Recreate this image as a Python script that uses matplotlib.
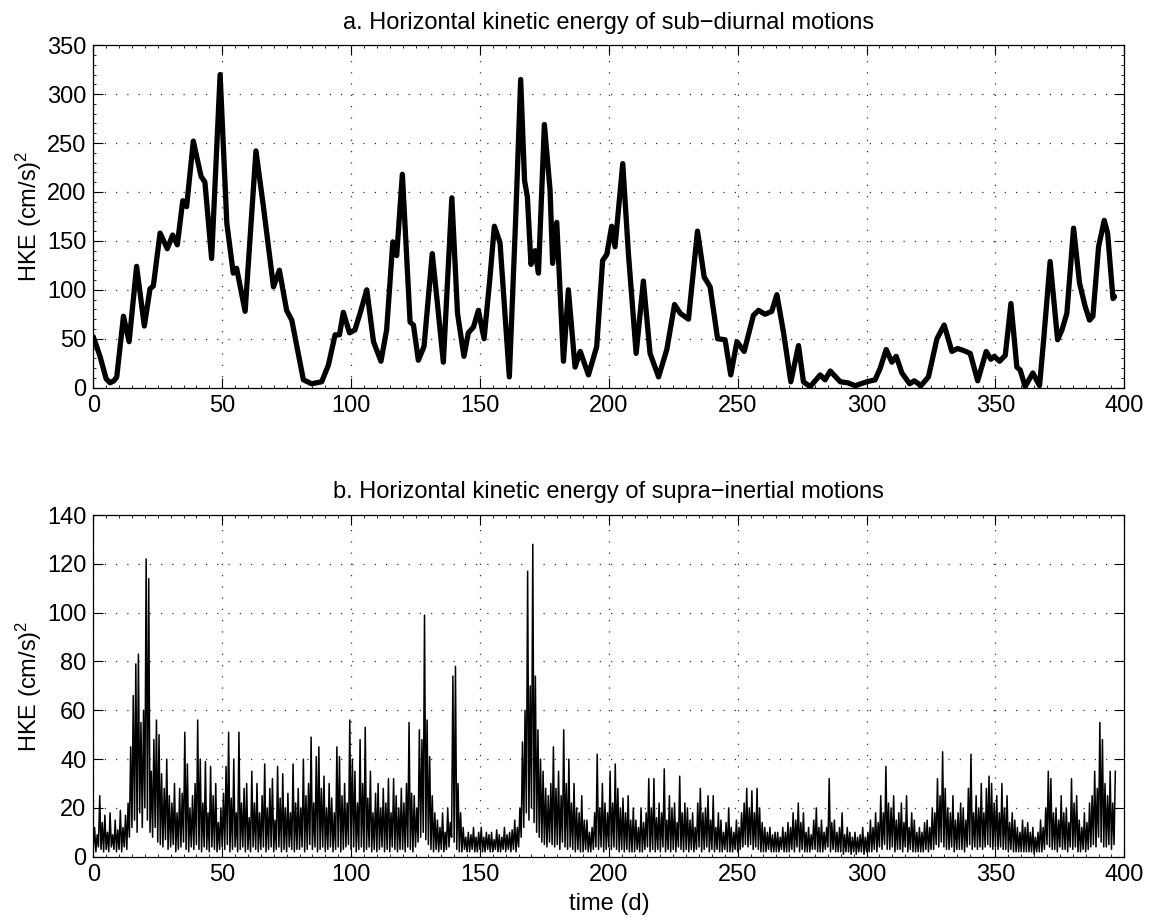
import matplotlib
matplotlib.use('Agg')
import matplotlib.pyplot as plt
from matplotlib.ticker import MultipleLocator
import numpy as np

plt.rcParams['font.family'] = ['Liberation Sans', 'DejaVu Sans']
plt.rcParams['mathtext.fontset'] = 'custom'
plt.rcParams['mathtext.rm'] = 'Liberation Sans'
plt.rcParams['mathtext.it'] = 'Liberation Sans:italic'

# sub-diurnal HKE, (day, value) pairs along the smoothed curve
sub_day = [0, 2.6, 5.0, 6.5, 8.0, 9.1, 11.7, 13.9, 16.8, 19.8, 22.0, 23.3, 25.9, 28.7, 30.8, 32.6,
           34.7, 36.2, 38.8, 41.8, 43.3, 45.9, 49.2, 51.8, 54.3, 55.6, 58.9, 63.1, 66.0,
           69.9, 72.2, 75.0, 77.0, 81.5, 84.7, 88.6, 91.2, 93.8, 95.5, 97.0, 99.4,
           101.5, 103.5, 106.1, 108.7, 111.6, 113.8, 116.2, 117.7, 119.9, 122.9, 124.2,
           126.1, 128.3, 131.5, 133.5, 135.8, 139.1, 141.3, 143.8, 145.5, 147.5, 149.4,
           151.6, 153.7, 155.6, 157.8, 161.4, 163.9, 165.8, 167.3, 168.4, 169.8, 171.4,
           172.7, 175.0, 177.2, 178.2, 179.8, 182.4, 184.3, 186.9, 188.9, 192.1, 195.3,
           197.6, 199.2, 201.1, 202.4, 205.4, 207.6, 210.6, 213.4, 216.0, 219.3, 222.5,
           225.5, 227.7, 230.9, 234.4, 237.0, 239.3, 242.2, 245.1, 247.3, 249.7, 252.5,
           256.1, 258.1, 260.6, 263.2, 265.2, 267.8, 270.6, 273.6, 275.5, 278.1, 282.0,
           283.9, 285.9, 289.8, 292.6, 295.6, 300.1, 303.3, 305.3, 307.6, 309.8, 311.5,
           313.7, 316.7, 318.5, 321.1, 324.0, 327.3, 330.1, 333.1, 335.3, 337.6, 340.2,
           343.1, 346.4, 348.2, 349.5, 351.6, 353.8, 356.0, 358.3, 359.6, 361.5, 364.5,
           367.1, 368.7, 371.2, 374.1, 375.8, 377.7, 380.3, 382.6, 384.8, 386.5, 387.8,
           390.0, 392.2, 393.5, 395.6, 396.2]
sub_hke = [52, 32, 9, 5, 7, 11, 73, 47, 124, 63, 101, 104, 158, 142, 156, 146,
           191, 185, 252, 216, 210, 132, 320, 168, 117, 122, 78, 242, 185,
           103, 120, 79, 69, 8, 4, 6, 23, 54, 54, 77, 56,
           59, 76, 100, 47, 27, 59, 149, 135, 218, 67, 64,
           28, 42, 137, 86, 26, 194, 76, 32, 56, 62, 79,
           50, 107, 165, 148, 11, 175, 315, 212, 195, 126, 140,
           117, 269, 202, 127, 169, 27, 100, 21, 37, 13, 42,
           130, 136, 165, 144, 229, 137, 35, 109, 35, 11, 39,
           85, 76, 70, 160, 113, 103, 50, 49, 13, 47, 37,
           74, 79, 75, 78, 95, 56, 6, 43, 6, 1, 13,
           8, 17, 6, 5, 2, 6, 8, 20, 39, 26, 32,
           15, 4, 7, 2, 11, 50, 64, 37, 40, 38, 35,
           7, 37, 29, 32, 27, 33, 86, 21, 18, 1, 15,
           2, 49, 129, 49, 59, 76, 163, 107, 83, 69, 73,
           144, 171, 158, 91, 93]

# supra-inertial HKE: daily peak and daily trough
supra_hi = [12, 9, 25, 14, 17, 10, 18, 9, 15, 11,
            19, 12, 17, 22, 45, 66, 79, 83, 55, 60,
            122, 114, 35, 48, 56, 50, 34, 28, 40, 25,
            22, 30, 18, 28, 26, 51, 38, 20, 25, 30,
            56, 40, 22, 39, 18, 37, 25, 30, 14, 20,
            26, 37, 51, 24, 40, 18, 51, 22, 28, 30,
            16, 35, 22, 30, 18, 25, 38, 20, 28, 32,
            15, 37, 24, 34, 20, 26, 18, 38, 22, 28,
            20, 40, 25, 30, 49, 22, 41, 45, 28, 33,
            20, 30, 24, 18, 45, 41, 25, 30, 22, 56,
            40, 35, 22, 48, 30, 53, 24, 35, 18, 26,
            30, 20, 28, 22, 32, 18, 32, 25, 20, 28,
            22, 30, 55, 26, 25, 20, 52, 48, 99, 56,
            41, 25, 18, 15, 12, 18, 10, 20, 14, 74,
            78, 30, 18, 12, 8, 10, 9, 12, 8, 10,
            12, 8, 10, 9, 10, 7, 11, 9, 8, 12,
            9, 10, 11, 15, 12, 20, 47, 60, 117, 70,
            128, 74, 52, 40, 35, 28, 25, 30, 45, 28,
            35, 25, 52, 30, 40, 22, 30, 20, 18, 25,
            15, 15, 10, 12, 18, 42, 20, 30, 22, 18,
            35, 22, 38, 28, 20, 24, 18, 25, 15, 20,
            15, 12, 20, 14, 18, 32, 20, 32, 16, 22,
            18, 36, 15, 25, 20, 22, 14, 33, 18, 22,
            20, 15, 18, 12, 22, 28, 18, 20, 25, 15,
            25, 12, 18, 15, 10, 14, 20, 12, 10, 15,
            12, 18, 22, 28, 20, 27, 18, 28, 20, 14,
            12, 10, 12, 9, 10, 10, 8, 12, 10, 14,
            12, 18, 15, 22, 14, 18, 10, 12, 9, 15,
            20, 12, 15, 10, 12, 32, 14, 15, 10, 12,
            18, 9, 12, 10, 8, 10, 8, 9, 12, 8,
            10, 15, 12, 18, 14, 25, 18, 37, 22, 20,
            25, 15, 18, 22, 14, 25, 12, 18, 15, 10,
            12, 10, 14, 15, 12, 20, 18, 32, 25, 43,
            28, 20, 18, 25, 15, 18, 22, 20, 15, 28,
            42, 18, 25, 20, 30, 18, 28, 33, 30, 22,
            25, 18, 30, 20, 25, 14, 18, 15, 12, 10,
            15, 12, 14, 10, 12, 8, 10, 15, 12, 20,
            35, 32, 18, 20, 15, 25, 18, 20, 14, 32,
            22, 25, 15, 12, 18, 14, 22, 25, 35, 28,
            55, 48, 30, 25, 35, 22, 35]
supra_lo = [3, 2, 4, 3, 2, 3, 2, 4, 3, 2,
            3, 2, 4, 3, 8, 12, 15, 10, 18, 12,
            20, 15, 10, 8, 12, 6, 5, 4, 7, 3,
            4, 5, 2, 3, 4, 6, 3, 2, 4, 3,
            5, 3, 2, 4, 3, 2, 4, 3, 2, 3,
            4, 3, 5, 2, 3, 4, 2, 3, 4, 2,
            3, 2, 4, 3, 2, 3, 4, 2, 3, 4,
            2, 3, 4, 2, 3, 2, 4, 3, 2, 3,
            3, 4, 2, 3, 5, 3, 4, 2, 3, 4,
            2, 3, 4, 2, 3, 4, 2, 3, 4, 5,
            3, 4, 2, 3, 4, 2, 3, 4, 2, 3,
            2, 3, 4, 2, 3, 2, 4, 3, 2, 3,
            3, 2, 4, 3, 2, 4, 6, 8, 10, 7,
            5, 3, 2, 3, 2, 3, 2, 3, 4, 8,
            6, 3, 2, 2, 3, 2, 2, 3, 2, 2,
            3, 2, 2, 3, 2, 2, 3, 2, 2, 3,
            2, 3, 2, 3, 2, 4, 8, 12, 18, 15,
            20, 14, 10, 8, 6, 5, 4, 6, 5, 4,
            5, 3, 6, 4, 3, 4, 3, 2, 3, 2,
            2, 3, 2, 2, 3, 4, 3, 4, 2, 3,
            4, 3, 4, 3, 2, 3, 2, 3, 2, 2,
            2, 3, 2, 2, 3, 4, 2, 3, 2, 3,
            2, 4, 2, 3, 2, 3, 2, 4, 3, 2,
            3, 2, 3, 2, 3, 4, 2, 3, 4, 2,
            3, 2, 3, 2, 2, 3, 2, 2, 2, 3,
            2, 3, 4, 5, 4, 5, 3, 4, 3, 2,
            2, 2, 3, 2, 2, 2, 2, 3, 2, 2,
            2, 3, 2, 4, 2, 3, 2, 2, 2, 3,
            3, 2, 2, 2, 3, 4, 2, 3, 2, 2,
            2, 1, 2, 2, 1, 2, 1, 2, 2, 1,
            2, 2, 2, 3, 2, 4, 3, 5, 3, 3,
            4, 2, 3, 3, 2, 4, 2, 3, 2, 2,
            2, 2, 2, 3, 2, 3, 3, 5, 4, 6,
            4, 3, 3, 4, 2, 3, 3, 3, 2, 4,
            5, 3, 4, 3, 4, 3, 4, 5, 4, 3,
            4, 3, 4, 3, 3, 2, 3, 2, 2, 2,
            2, 2, 2, 2, 2, 1, 2, 2, 2, 3,
            5, 4, 3, 3, 2, 4, 3, 3, 2, 4,
            3, 4, 2, 2, 3, 2, 3, 4, 5, 4,
            8, 6, 4, 4, 5, 3, 5]

# trough at the start of each day, peak at mid-day
days = np.arange(len(supra_hi))
supra_t = np.column_stack([days, days + 0.5]).ravel()
supra_v = np.column_stack([supra_lo, supra_hi]).ravel()

fs = 17
grid_kw = dict(color='0.2', linestyle=(0, (1, 8)), linewidth=0.9)

fig = plt.figure(figsize=(11.59, 9.21), dpi=100)
ax1 = fig.add_axes([0.0805, 0.5791, 0.8896, 0.3718])
ax2 = fig.add_axes([0.0805, 0.0698, 0.8896, 0.3710])

ax1.plot(sub_day, sub_hke, color='k', linewidth=3.8,
         solid_joinstyle='round', solid_capstyle='round')
ax1.set_ylim(0, 350)
ax1.set_yticks(np.arange(0, 351, 50))
ax1.yaxis.set_minor_locator(MultipleLocator(10))
ax1.set_title('a. Horizontal kinetic energy of sub\u2212diurnal motions', fontsize=fs, pad=12)

ax2.plot(supra_t, supra_v, color='k', linewidth=1.1)
ax2.set_ylim(0, 140)
ax2.set_yticks(np.arange(0, 141, 20))
ax2.set_title('b. Horizontal kinetic energy of supra\u2212inertial motions', fontsize=fs, pad=12)
ax2.set_xlabel('time (d)', fontsize=fs, labelpad=5)

for ax in (ax1, ax2):
    ax.set_xlim(0, 400)
    ax.set_xticks(np.arange(0, 401, 50))
    ax.xaxis.set_minor_locator(MultipleLocator(5))
    ax.grid(True, which='major', **grid_kw)
    ax.tick_params(which='both', direction='in', top=True, right=True, labelsize=fs)
    ax.tick_params(which='major', length=7, width=0.8, pad=5)
    ax.tick_params(which='minor', length=2.5, width=0.6)
    ax.set_ylabel('HKE (cm/s)$^2$', fontsize=fs, labelpad=2)
    for sp in ax.spines.values():
        sp.set_linewidth(0.9)

fig.savefig('out.png', dpi=100)
